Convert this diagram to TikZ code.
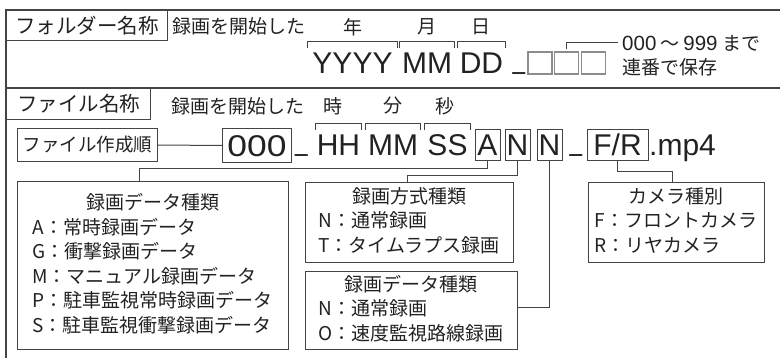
\documentclass[tikz,border=0pt]{standalone}
\usepackage{fontspec}
\usepackage{graphicx}
\setmainfont{Noto Sans CJK JP}
\newfontfamily\latf{Liberation Sans}
\definecolor{ink}{HTML}{222222}
\definecolor{frm}{HTML}{444444}
\definecolor{sqc}{HTML}{8C8C8C}
\tikzset{
  frameline/.style={draw=frm, line width=1.3pt},
  lbl/.style={draw=frm, line width=1.1pt, inner sep=0pt, text=ink, font=\fontsize{20.5}{24}\selectfont},
  seqbox/.style={draw=frm, line width=1pt, inner sep=0pt, text=ink, font=\fontsize{18.5}{22}\selectfont},
  jtxt/.style={inner sep=0pt, text=ink, font=\fontsize{19}{24}\selectfont},
  big/.style={inner sep=0pt, text=ink, font=\latf\fontsize{30}{34}\selectfont, text height=21.5pt, text depth=0pt},
  cbox/.style={big, draw=frm, line width=1pt, minimum height=31pt},
  sqbox/.style={draw=sqc, line width=1.3pt, minimum width=24pt, minimum height=22pt, inner sep=0pt},
  infobox/.style={draw=frm, line width=1pt, inner sep=0pt, text=ink, font=\fontsize{19}{24.5}\selectfont},
  conn/.style={draw=frm, line width=1pt},
  brk/.style={draw=frm, line width=1pt},
}
\newcommand\mybrk[1]{\draw[brk] ([yshift=4.5pt]#1.north west) -- ([yshift=11pt]#1.north west) -- ([yshift=11pt]#1.north east) -- ([yshift=4.5pt]#1.north east);}
\newcommand\dg[1]{{\latf\fontsize{20.5}{24}\selectfont #1}}
\begin{document}
\begin{tikzpicture}[x=1pt,y=-1pt]
\useasboundingbox (0,0) rectangle (780,358);
% frame
\draw[frameline] (780,10) -- (6,10) -- (6,358);
\draw[frameline] (6,88) -- (780,88);

% ---- folder name row ----
\node[lbl, anchor=north west, minimum width=161pt, minimum height=30pt] (fold) at (6,10) {フォルダー名称};
\node[jtxt] (start1) at (238.5,26) {録画を開始した};
\node[jtxt] (nen) at (352.5,27) {年};
\node[jtxt] (tsuki) at (427,27) {月};
\node[jtxt] (hi) at (480.5,27) {日};

\node[big, anchor=base, minimum width=89pt] (yy) at (352.5,74) {YYYY};
\node[big, anchor=base, minimum width=54pt] (mm1) at (427,74) {MM};
\node[big, anchor=base, minimum width=47pt] (dd) at (481.5,74) {DD};
\mybrk{yy}
\mybrk{mm1}
\mybrk{dd}
\node[big, anchor=base, text height=0pt] (us1) at (519,74) {\scalebox{0.75}[1]{\raisebox{5pt}{\_}}};
\node[sqbox] (sq1) at (540,63) {};
\node[sqbox] (sq2) at (566.5,63) {};
\node[sqbox] (sq3) at (593.5,63) {};
\node[jtxt, anchor=west] (rng) at (622,43) {\dg{000}\hspace{4pt}～\hspace{4pt}\dg{999}\hspace{5pt}まで};
\node[jtxt, anchor=west] (ren) at (622,67) {連番で保存};
\draw[brk] ([yshift=2pt]sq2.north) |- ([xshift=-4pt]rng.west);

% ---- file name row ----
\node[lbl, anchor=north west, minimum width=144pt, minimum height=31pt] (file) at (6,88) {ファイル名称};
\node[jtxt] (start2) at (238,106) {録画を開始した};
\node[jtxt] (ji) at (333,106) {時};
\node[jtxt] (fun) at (393,106) {分};
\node[jtxt] (byo) at (445,106) {秒};

\node[seqbox, anchor=north west, minimum width=140pt, minimum height=33pt] (seq) at (17,128) {ファイル作成順};
\node[cbox, anchor=north west, minimum width=69pt, minimum height=34pt] (b000) at (222,128) {\scalebox{1.18}[1]{000}};
\draw[conn] (seq.east) -- (b000.west);
\node[big, anchor=base, text height=0pt] (us2) at (301.5,156) {\scalebox{0.75}[1]{\raisebox{5pt}{\_}}};
\node[big, anchor=base, minimum width=45pt] (hh) at (338.5,156) {HH};
\node[big, anchor=base, minimum width=54pt] (mm2) at (393,156) {MM};
\node[big, anchor=base, minimum width=45pt] (ss) at (447.5,156) {SS};
\mybrk{hh}
\mybrk{mm2}
\mybrk{ss}
\node[cbox, anchor=north, minimum width=25pt] (bA) at (487.5,129) {A};
\node[cbox, anchor=north, minimum width=25pt] (bN1) at (517.5,129) {N};
\node[cbox, anchor=north, minimum width=25pt] (bN2) at (549.5,129) {N};
\node[big, anchor=base, text height=0pt] (us3) at (576,156) {\scalebox{0.75}[1]{\raisebox{5pt}{\_}}};
\node[cbox, anchor=north, minimum width=61pt] (bFR) at (617.5,129) {F/R};
\node[big, anchor=base west] (mp4) at (649,156) {.mp4};

% ---- info boxes ----
\node[infobox, minimum width=271pt, minimum height=168pt] (lbox) at (152.5,266)
  {\begin{tabular}{@{}l@{}}\multicolumn{1}{@{}c@{}}{録画データ種類}\\
   A：常時録画データ\\ G：衝撃録画データ\\ M：マニュアル録画データ\\
   P：駐車監視常時録画データ\\ S：駐車監視衝撃録画データ\end{tabular}};
\node[infobox, minimum width=208pt, minimum height=80pt] (box2) at (409,223)
  {\begin{tabular}{@{}l@{}}\multicolumn{1}{@{}c@{}}{録画方式種類}\\
   N：通常録画\\ T：タイムラプス録画\end{tabular}};
\node[infobox, minimum width=212pt, minimum height=78pt] (box3) at (411,311)
  {\begin{tabular}{@{}l@{}}\multicolumn{1}{@{}c@{}}{録画データ種類}\\
   N：通常録画\\ O：速度監視路線録画\end{tabular}};
\node[infobox, minimum width=176pt, minimum height=80pt] (cam) at (676,223)
  {\begin{tabular}{@{}l@{}}\multicolumn{1}{@{}c@{}}{カメラ種別}\\
   F：フロントカメラ\\ R：リヤカメラ\end{tabular}};

% ---- connectors ----
\draw[conn] (bA.south) -- ++(0,8) -| ([xshift=123pt]lbox.north west);
\draw[conn] (bN1.south) -- ++(0,15) -| ([xshift=-2pt]box2.north);
\draw[conn] (bN2.south) |- ([yshift=3pt]box3.east);
\draw[conn] (bFR.south) -- ++(0,11) -| ([xshift=-4pt]cam.north);
\end{tikzpicture}
\end{document}
